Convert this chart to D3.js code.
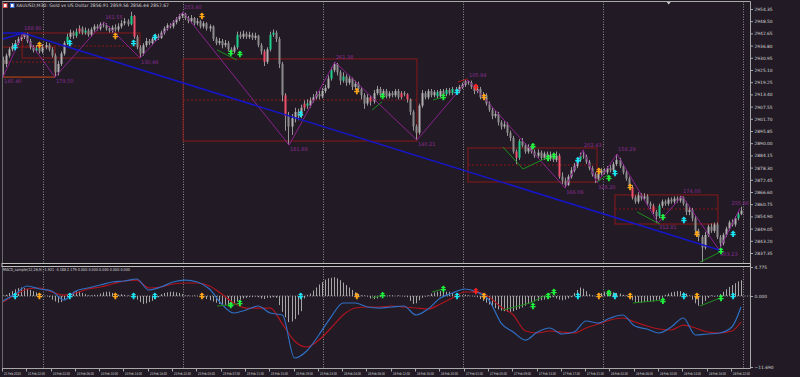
<!DOCTYPE html>
<html lang="en">
<head>
<meta charset="UTF-8">
<script src="https://d3js.org/d3.v7.min.js"></script>
<style>
  html, body { margin: 0; padding: 0; background: #221b25; }
  svg { display: block; font-family: Tahoma, "DejaVu Sans", sans-serif; }
</style>
</head>
<body>
<svg id="chart" width="800" height="377"></svg>
<script>
// ---------- data ----------
const firstOpen = 2930;
const closes = [
  2928,2932,2935,2936.5,2938,2940,2941,2942.5,2939,2936,2934.5,2935.5,2934,2936,2937,2935,2932,2924,2928,2933,
  2938,2941,2943,2941.5,2943.5,2945,2943,2944,2942,2944.5,2946,2945,2947,2946.5,2945,2944,2945.5,2944.5,2946,2947.5,
  2948.5,2947,2951,2941,2936,2933,2937,2939,2938,2940,2941.5,2940.5,2943,2945,2946.5,2946,2948,2949.5,2951,2952,
  2950,2948.5,2950,2947.5,2948.5,2946,2947.5,2945,2946,2940,2938,2939,2937,2938,2935,2934,2936,2942,2941,2942.5,
  2941,2942,2940.5,2941.5,2937,2934,2929,2935,2942,2943,2940,2928,2913,2903,2898,2902,2905,2903,2907,2909,
  2908,2910.5,2912,2913.5,2912.5,2915,2916.5,2921,2925,2928,2924,2920,2922,2919,2921,2917,2918.5,2916,2913,2909,
  2912,2910,2914,2916,2913,2915,2912.5,2914,2913,2915,2912,2914,2913.5,2911,2905,2898,2895,2908,2914,2912,
  2915,2913,2914.5,2912.5,2915,2913.5,2915.5,2914,2916,2915,2917,2918,2919.5,2919,2917,2915,2916,2912,2913,2909,
  2906,2903,2904,2900,2898,2899,2895,2892.5,2886,2883,2891,2889,2886,2888,2886,2884,2885.5,2883,2885,2882.5,
  2884.5,2882,2884,2874,2872,2870,2874,2877,2879,2882,2884,2883.5,2881,2878,2875,2873,2875.5,2877,2876,2878,
  2877,2880,2882,2879,2876,2873,2869,2864,2862,2865,2863.5,2864.5,2861,2860,2857,2855,2860,2862,2861,2863,
  2862,2863.5,2862.5,2864,2861,2857,2858,2854,2848,2845,2840,2846,2850,2848,2851,2845,2842,2846,2849,2852,
  2851,2854,2856,2857.67
];
const highs = [
  2931.5,2933,2936,2938,2939.5,2941,2942,2942.9,2943,2940,2937,2937,2936.5,2937.5,2938.5,2938,2936,2933,2929.5,2934,
  2939,2942.5,2944.5,2944,2945,2946.5,2946,2945.5,2945,2945.5,2947,2947,2948,2948.2,2947.5,2946,2946.5,2947,2947.5,2949,
  2950,2949.5,2953,2951.5,2942,2937,2938,2940.5,2940,2941,2942.5,2942.5,2944,2946,2947.5,2947.5,2949,2950.5,2952,2952.9,
  2952.5,2951,2951.5,2950.5,2950,2949,2948.5,2948,2947,2946.5,2941,2940.5,2940,2939.5,2939,2936,2937,2943.5,2943.5,2944,
  2943.5,2943.5,2943,2943,2942,2938,2935,2936,2943.5,2944.5,2944,2941,2929,2914,2905,2904,2907,2906.5,2908.5,2910.5,
  2911,2912,2913.5,2915,2915,2916.5,2918,2922.5,2926.5,2929,2928.5,2925,2924,2923,2922.5,2921.5,2920,2919.5,2917,2914,
  2913.5,2913,2915.5,2917.5,2917,2916,2916,2915,2915,2916,2916,2915,2915,2914,2911.5,2906,2899,2909,2915.5,2915,
  2916,2916,2915.5,2915.5,2916,2916,2916.5,2916.5,2917,2917,2918,2919,2920.5,2920.3,2920,2918,2917.5,2917,2914.5,2914,
  2910,2907,2905.5,2905,2901,2900.5,2900,2896,2893.5,2887,2892,2892.5,2890,2889.5,2889,2887,2887,2886.5,2886,2886,
  2886,2885.5,2886,2885,2876,2873.5,2875,2878.5,2880.5,2883,2885.5,2886.75,2884.5,2882,2879,2876,2876.5,2878,2878,2879,
  2879.5,2881,2884.8,2883,2880,2877,2874,2870,2865,2866.5,2866,2866,2865.5,2862,2861,2858,2861,2863,2863,2864,
  2864,2864.5,2864.5,2864.7,2864.5,2862,2859.5,2859,2855,2849,2846,2847.5,2851,2851.5,2852,2852,2846,2847,2850,2853,
  2853.5,2855,2857,2859.56
];
const lows = [
  2921.7,2926.5,2931,2934,2935.5,2937,2939,2940,2938,2935,2933.5,2933.5,2933,2933,2935,2934,2931,2921.7,2922.5,2927,
  2932,2937,2940,2940,2940.5,2942.5,2942,2942,2941,2941,2943.5,2944,2944,2945.5,2944,2943,2943,2943.5,2943.5,2945,
  2946.5,2946,2946.5,2940,2935,2930.85,2932,2936,2937,2937,2939,2939.5,2940,2942,2944,2945,2945,2947,2948.5,2950,
  2949,2947.5,2947.5,2946.5,2946.5,2945,2945,2944,2943.5,2939,2937,2937,2935.5,2936,2934,2932.5,2933,2935,2940,2940,
  2940,2940,2939.5,2939.5,2936,2932.5,2927,2928,2934,2941,2938.5,2926,2910,2896,2889.1,2894,2900,2901,2902,2905.5,
  2906.5,2907,2909.5,2911,2911,2911.5,2914,2916,2920,2924,2922.5,2918,2919,2917.5,2918,2915.5,2916,2914.5,2911,2906.5,
  2908,2908,2909,2913,2912,2912,2911.5,2911.5,2912,2912,2911,2911,2912.5,2909.5,2903.5,2896,2891.5,2894,2907,2911,
  2911,2912,2912,2911.5,2911.5,2912.5,2912.5,2913,2913,2914,2914,2916,2917,2918,2916,2913.5,2914,2911,2911,2908,
  2905,2901.5,2902,2898.5,2896.5,2897,2893.5,2891,2885,2880,2882,2888,2885,2885,2885,2883,2883,2882,2882,2881.5,
  2881.5,2881,2881,2873,2870.5,2868.5,2869.5,2873,2876,2878,2881,2882.5,2880,2877,2874,2870.9,2872,2874.5,2875,2875,
  2876,2876,2879,2878,2875,2872,2868,2863,2861,2861,2862.5,2862.5,2860,2858.5,2856,2851.7,2854,2859,2860,2860,
  2861,2861,2861.5,2861.5,2860,2855.5,2855.5,2852.5,2846.5,2843,2833,2839,2845,2847,2847,2844,2838.8,2841,2845,2848,
  2850,2850,2853,2855.5
];
const greenBars = [11, 21, 24, 27, 42, 77, 88, 89, 100, 108, 112, 143, 146, 148, 170, 190, 216, 242];
const redBars = [25, 43, 86, 93, 99, 121, 131, 133, 169, 183, 207, 214];

// zigzag swing points and their labels
const zigBars = [-1, 0, 6.6, 17.1, 33.3, 45.1, 59.3, 94.2, 109.3, 136.3, 153.1, 185.1, 191, 195.6, 202.2, 215.7, 223.6, 235.8, 242.7];
const zigPrices = [2934.7, 2921.7, 2942.85, 2921.7, 2948.1, 2930.85, 2952.9, 2889.1, 2928.95, 2891.5, 2920.3, 2868.5, 2886.75, 2870.9, 2884.8, 2851.7, 2864.7, 2838.8, 2858.9];
const zigLabels = ["", "145.40", "188.80", "179.50", "161.55", "130.46", "253.40", "181.89", "261.38", "140.21", "105.94", "166.06", "202.43", "326.20", "158.29", "312.81", "174.00", "303.23", "255.66"];

// red range boxes
const boxStart = [-1, 6.3, 59.3, 153.1, 201.5];
const boxEnd = [17.1, 45.1, 136.3, 195.6, 235.4];
const boxTop = [2936.1, 2942.85, 2930.4, 2887.7, 2865.2];
const boxBottom = [2921.7, 2930.85, 2891.05, 2871.4, 2851.25];
const boxMid = [2928.9, 2936.6, 2910.7, 2879.55, 2858.45];

// blue trend lines [bar, price, bar, price]
const trendLines = [[6.6, 2942.85, 235.8, 2838.8], [-1, 2939.5, 6.6, 2942.85], [-1, 2942.85, 6.6, 2942.85]];

// signal markers
const markerBars = [4, 12, 22, 37, 43, 50, 65.5, 75, 78, 98, 116.5, 125, 145, 149.5, 155.7, 158.4, 174.5, 179.5, 181.4, 189.3, 196.2, 199.5, 201.5, 206.5, 217.3, 224.2, 228.5, 236.4, 240.4];
const markerKinds = ["c","o","c","o","c","c","o","g","g","c","o","g","g","c","r","o","g","g","g","c","o","g","c","o","g","c","o","g","c"];
const markerPrices = [2936.1, 2937.1, 2938.05, 2941.4, 2938.05, 2940.9, 2951, 2933.25, 2932.8, 2904, 2915, 2912.6, 2912.15, 2914.6, 2916.95, 2912.15, 2888.6, 2882.9, 2883.9, 2881.9, 2876.7, 2873.3, 2875.7, 2869, 2854.6, 2853.2, 2846.5, 2838.3, 2846.5];
const markerMacd = [0, 0, 0, 0, 0, 0, 0, -1.5, -1.15, 0, 0, 0.16, 1.15, 0, 0.8, 0, -1.65, 0, 0.66, 0, 0, 0.5, 0, 0, -0.8, 0, 0, -0.33, 0];

// divergence segments
const divMain = [
  [[70.5, 2934.7], [77, 2929.9]], [[121.5, 2905.9], [124.8, 2909.8]], [[141.6, 2910.7], [144.9, 2912.15]],
  [[164.6, 2888.2], [171.2, 2877.6], [179.5, 2883.4]], [[195.6, 2871.4], [199.2, 2874.8]],
  [[208.8, 2857], [216.3, 2851.2]], [[229.5, 2833], [236.1, 2837.8]]
];
const redSeg = [[149.8, 2919.35], [153, 2920.8]];
const divMacd = [
  [[70.5, -1.65], [77.1, -1.32]], [[121.5, -0.33], [125, 0.16]], [[141.3, 0.66], [144.9, 1.15]],
  [[164.6, -2.3], [173.5, -1.15], [181, 0.66]], [[207.4, -1.15], [217.3, -0.66]], [[229.5, -1.65], [236.1, -0.33]]
];

// MACD lines, sampled every 4 bars
const macdBars = [0,4,8,12,16,20,24,28,32,36,40,44,48,52,56,60,64,68,72,76,80,84,88,92,96,100,104,108,112,116,
  120,124,128,132,136,140,144,148,152,156,160,164,168,172,176,180,184,188,192,196,200,204,208,212,216,220,224,228,232,236,240,243];
const macdMain = [-0.82,0.33,1.65,1.15,0.82,-0.66,0.82,1.32,1.81,2.31,2.47,2.8,0.99,1.48,2.31,2.63,2.31,1.15,-1.32,-2.8,
  -2.31,-1.65,-2.8,-3.13,-10.21,-9.06,-6.42,-3.46,-1.15,-1.15,-1.81,-1.98,-1.81,-1.65,-3.13,-2.14,-0.33,0.49,1.15,0.66,
  -0.66,-4.45,-5.93,-7.25,-5.93,-5.27,-6.26,-5.93,-4.12,-4.45,-3.62,-3.13,-4.94,-5.43,-6.09,-5.1,-3.62,-6.42,-6.26,-6.09,-5.1,-1.81];
const macdSignal = [-0.99,0.16,1.15,1.32,0.66,0.16,0.49,1.15,1.48,1.98,2.47,2.63,1.32,1.48,1.98,2.14,2.14,1.65,0.33,-1.15,
  -1.98,-1.98,-1.98,-4.6,-7.41,-8.4,-7.25,-5.27,-3.13,-1.98,-1.81,-1.81,-1.65,-1.81,-1.98,-2.14,-1.32,-0.33,0.66,0.66,
  -0.16,-1.81,-3.13,-5.76,-6.09,-5.76,-5.93,-6.09,-5.27,-4.61,-3.95,-3.62,-4.28,-4.94,-5.43,-5.6,-4.78,-5.27,-5.93,-6.09,-5.76,-4.28];
const macdHist = [
  0.1,0.2, 0.5,0.8,1.1,1.3,1.4,1.3,1.2,1.0,0.8,0.6, 0.3,0.1,0.0,-0.2, -0.6,-0.9,-1.1,-1.0,-0.6,
  0.3,0.5,0.7,0.8,0.7,0.5,0.3, 0.1,0.1,0.2,0.2, 0.4,0.6,0.7,0.7,0.5,0.3, 0.2,0.3,0.2,0.1,0.0,-0.2,
  -0.6,-1.0,-1.3,-1.2,-1.0,-0.8,-0.5,-0.2, 0.3,0.5,0.6,0.7,0.7,0.6,0.5,0.3, 0.1,0.1,0.0,0.1,0.0,-0.1,
  -0.3,-0.5,-0.7,-0.9,-1.1,-1.3,-1.4,-1.5,-1.6,-1.5,-1.3, -0.9,-0.6,-0.4,-0.3,-0.2,-0.2,-0.1,-0.2,
  -0.4,-0.5,-0.3,-0.3,-0.2,-0.3, -1.5,-2.6,-3.5,-4.3,-4.2,-3.8,-3.1,-2.5, -0.4,0.2,
  0.4,0.9,1.4,1.9,2.3,2.7,2.9,3.0,3.1,2.9,2.6,2.2,1.8,1.4,1.0,0.6,0.3, 0.1,0.1,-0.1, -0.4,-0.5,-0.4,-0.2,
  0.1,0.0,0.1,0.1,0.0,0.1,0.0,-0.1,-0.2, -0.8,-1.3,-1.2,-0.7, -0.3,-0.1,0.1,
  0.4,0.6,0.7,0.8,0.8,0.7,0.7,0.5,0.3, 0.1,0.1,0.2,0.1,0.0,-0.1,-0.2,
  -0.5,-0.8,-1.1,-1.4,-1.7,-2.0,-2.2,-2.4,-2.5,-2.6,-2.6,-2.5,
  -2.3,-2.1,-1.9,-1.6,-1.3,-1.1,-0.9,-0.8,-0.7,-0.6,-0.4,-0.3,-0.2, -0.4,-0.6,-0.7,-0.6,-0.4,-0.2,
  0.5,1.0,1.4,1.2,0.8, 0.3,0.1,0.0, 0.3,0.5,0.7,0.8,0.7,0.6,0.5,0.4,0.2,0.1,
  -0.3,-0.7,-1.0,-1.1,-1.1,-1.0,-1.0,-0.9,-0.9,-0.8,-0.6,-0.3, 0.2,0.4,0.6,0.7,0.8,0.8,0.6,0.4,0.1,
  -0.6,-1.2,-1.6,-1.4,-0.8, -0.3,0.1,-0.1,0.1,0.3, 0.7,1.1,1.5,1.8,2.1,2.4,2.6
];

// axes
const priceTicks = [2954.35,2948.50,2942.65,2936.80,2930.95,2925.10,2919.25,2913.40,2907.55,2901.70,2895.85,
  2890.00,2884.15,2878.30,2872.45,2866.60,2860.75,2854.90,2849.05,2843.20,2837.35];
const macdTicks = [4.775, 0, -11.69];
const timeBars = [0,8,16,24,32,40,48,56,64,72,80,88,96,104,112,120,128,136,144,152,160,168,176,184,192,200,208,216,224,232,240];
const timeLabels = ["21 Feb 2025","21 Feb 22:00","24 Feb 02:00","24 Feb 06:00","24 Feb 10:00","24 Feb 14:00","24 Feb 18:00",
  "24 Feb 22:00","25 Feb 03:00","25 Feb 07:00","25 Feb 11:00","25 Feb 15:00","25 Feb 19:00","25 Feb 23:00","26 Feb 04:00",
  "26 Feb 08:00","26 Feb 12:00","26 Feb 16:00","26 Feb 20:00","27 Feb 01:00","27 Feb 05:00","27 Feb 09:00","27 Feb 13:00",
  "27 Feb 17:00","27 Feb 21:00","28 Feb 02:00","28 Feb 06:00","28 Feb 10:00","28 Feb 14:00","28 Feb 18:00","28 Feb 22:00"];
const sepBars = [13.2, 59.3, 105.4, 151.5, 197.6, 243.7];

const titleText = "XAUUSD,M30:  Gold vs US Dollar  2856.91 2859.56 2856.44 2857.67";
const macdText = "MACD_sample(12,26,9) -1.921 -4.188 2.179 0.000 0.000 0.000 0.000 0.000";

// ---------- layout ----------
const svg = d3.select("#chart");
const right = 750.5, mainTop = 1.5, mainBottom = 263.5, macdTop = 266.5, macdBottom = 368.5;
const axisCol = "#a8a8a8", textCol = "#d4d4d4";

const x = d3.scaleLinear().domain([0, 243]).range([3, 741]);
const y = d3.scaleLinear().domain([2837.35, 2954.35]).range([253, 9]);
const m = d3.scaleLinear().domain([-11.69, 4.775]).range([367, 267]);

svg.append("rect").attr("width", 800).attr("height", 377).attr("fill", "#221b25");

const defs = svg.append("defs");
defs.append("clipPath").attr("id", "clipMain").append("rect")
    .attr("x", 2).attr("y", mainTop).attr("width", right - 2).attr("height", mainBottom - mainTop);
defs.append("clipPath").attr("id", "clipMacd").append("rect")
    .attr("x", 2).attr("y", macdTop).attr("width", right - 2).attr("height", macdBottom - macdTop);

// period separators
svg.append("g").selectAll("line").data(sepBars).enter().append("line")
    .attr("x1", d => Math.round(x(d)) + 0.5).attr("x2", d => Math.round(x(d)) + 0.5)
    .attr("y1", mainTop).attr("y2", macdBottom)
    .attr("stroke", "#8c8c8c").attr("stroke-width", 1).attr("stroke-dasharray", "1,1.5");

const main = svg.append("g").attr("clip-path", "url(#clipMain)");

// boxes
boxStart.forEach((b, k) => {
    main.append("rect")
        .attr("x", x(b)).attr("y", y(boxTop[k]))
        .attr("width", x(boxEnd[k]) - x(b)).attr("height", y(boxBottom[k]) - y(boxTop[k]))
        .attr("fill", "none").attr("stroke", "#8a1818").attr("stroke-width", 1);
    main.append("line")
        .attr("x1", x(b)).attr("x2", x(boxEnd[k]))
        .attr("y1", y(boxMid[k])).attr("y2", y(boxMid[k]))
        .attr("stroke", "#8a1818").attr("stroke-width", 1).attr("stroke-dasharray", "2,2");
});
// first box bottom edge is drawn brown
main.append("line").attr("x1", x(boxStart[0])).attr("x2", x(boxEnd[0]))
    .attr("y1", y(boxBottom[0])).attr("y2", y(boxBottom[0]))
    .attr("stroke", "#9a4a20").attr("stroke-width", 1);

// candles
const bars = closes.map((c, i) => ({ i, o: i ? closes[i - 1] : firstOpen, h: highs[i], l: lows[i], c }));
const bodyColor = d => greenBars.includes(d.i) ? "#1ecf8c" : redBars.includes(d.i) ? "#f0506a" : (d.c >= d.o ? "#b0b0b0" : "#8c8c8c");

main.append("g").selectAll("line").data(bars).enter().append("line")
    .attr("x1", d => Math.round(x(d.i)) + 0.5).attr("x2", d => Math.round(x(d.i)) + 0.5)
    .attr("y1", d => y(d.h)).attr("y2", d => y(d.l))
    .attr("stroke", "#979797").attr("stroke-width", 1);

main.append("g").selectAll("rect").data(bars).enter().append("rect")
    .attr("x", d => Math.round(x(d.i)) - 0.5).attr("width", 2)
    .attr("y", d => y(Math.max(d.o, d.c)))
    .attr("height", d => Math.max(0.8, Math.abs(y(d.o) - y(d.c))))
    .attr("fill", bodyColor);

// zigzag
const zig = zigBars.map((b, k) => [x(b), y(zigPrices[k])]);
main.append("path").attr("d", d3.line()(zig))
    .attr("fill", "none").attr("stroke", "#8a228e").attr("stroke-width", 1);

zigLabels.forEach((t, k) => {
    if (!t) return;
    const isHigh = k > 0 && zigPrices[k] > zigPrices[k - 1];
    const last = k === zigLabels.length - 1;
    main.append("text")
        .attr("x", last ? right - 1.5 : x(zigBars[k]) + 1)
        .attr("text-anchor", last ? "end" : "start")
        .attr("y", y(zigPrices[k]) + (isHigh ? -4.5 : 5))
        .attr("dominant-baseline", "middle")
        .attr("fill", "#8a2c92").style("font-size", "5px")
        .text(t);
});

// trend lines
trendLines.forEach(t => {
    main.append("line")
        .attr("x1", x(t[0])).attr("y1", y(t[1])).attr("x2", x(t[2])).attr("y2", y(t[3]))
        .attr("stroke", "#1616c8").attr("stroke-width", 1.6);
});

// divergence segments
const lineMain = d3.line().x(d => x(d[0])).y(d => y(d[1]));
divMain.forEach(seg => {
    main.append("path").attr("d", lineMain(seg))
        .attr("fill", "none").attr("stroke", "#1c8c1c").attr("stroke-width", 1);
});
main.append("path").attr("d", lineMain(redSeg))
    .attr("fill", "none").attr("stroke", "#b01818").attr("stroke-width", 1);

// marker glyph: small up arrow with a cross bar
const glyph = "M0,-3.4 L2.6,-0.9 L0.9,-0.9 L0.9,-0.1 L2.6,-0.1 L2.6,1.3 L0.9,1.3 L0.9,3.2 L-0.9,3.2 L-0.9,1.3 L-2.6,1.3 L-2.6,-0.1 L-0.9,-0.1 L-0.9,-0.9 L-2.6,-0.9 Z";
const kindColor = { c: "#19e6f5", o: "#ffa516", g: "#1ef23c", r: "#ff2020" };

main.append("g").selectAll("path").data(markerBars).enter().append("path")
    .attr("d", glyph)
    .attr("transform", (d, k) => `translate(${x(d)},${y(markerPrices[k])})`)
    .attr("fill", (d, k) => kindColor[markerKinds[k]]);

// ---------- MACD panel ----------
const macd = svg.append("g").attr("clip-path", "url(#clipMacd)");

macd.append("line").attr("x1", 2).attr("x2", right).attr("y1", m(0)).attr("y2", m(0))
    .attr("stroke", "#9a9a9a").attr("stroke-width", 1).attr("stroke-dasharray", "1,1.5");

macd.append("g").selectAll("line").data(macdHist).enter().append("line")
    .attr("x1", (d, i) => Math.round(x(i)) + 0.5).attr("x2", (d, i) => Math.round(x(i)) + 0.5)
    .attr("y1", m(0)).attr("y2", d => m(d))
    .attr("stroke", "#a6a6a6").attr("stroke-width", 1);

const lineMacd = d3.line().x(d => x(d[0])).y(d => m(d[1])).curve(d3.curveMonotoneX);
macd.append("path").attr("d", lineMacd(macdBars.map((b, k) => [b, macdSignal[k]])))
    .attr("fill", "none").attr("stroke", "#b0141e").attr("stroke-width", 1.2);
macd.append("path").attr("d", lineMacd(macdBars.map((b, k) => [b, macdMain[k]])))
    .attr("fill", "none").attr("stroke", "#2f6fc4").attr("stroke-width", 1.2);

const lineDiv = d3.line().x(d => x(d[0])).y(d => m(d[1]));
divMacd.forEach(seg => {
    macd.append("path").attr("d", lineDiv(seg))
        .attr("fill", "none").attr("stroke", "#1c8c1c").attr("stroke-width", 1);
});

macd.append("g").selectAll("path").data(markerBars).enter().append("path")
    .attr("d", glyph)
    .attr("transform", (d, k) => `translate(${x(d)},${m(markerMacd[k])})`)
    .attr("fill", (d, k) => kindColor[markerKinds[k]]);

// ---------- frame ----------
svg.append("line").attr("x1", 2).attr("x2", right).attr("y1", mainTop).attr("y2", mainTop)
    .attr("stroke", axisCol);
svg.append("line").attr("x1", 2.5).attr("x2", 2.5).attr("y1", mainTop).attr("y2", macdBottom)
    .attr("stroke", "#6a6a6a");
svg.append("rect").attr("x", 2).attr("y", mainBottom).attr("width", right - 2).attr("height", macdTop - mainBottom)
    .attr("fill", "#141014").attr("stroke", "#c0c0c0").attr("stroke-width", 1);
svg.append("line").attr("x1", 2).attr("x2", right).attr("y1", macdBottom).attr("y2", macdBottom)
    .attr("stroke", axisCol);
svg.append("path").attr("d", `M${x(219.2) - 2},2 L${x(219.2) + 2},2 L${x(219.2)},4.5 Z`).attr("fill", "#c8c8c8");

// price axis
const pAxis = svg.append("g").attr("transform", `translate(${right},0)`)
    .call(d3.axisRight(y).tickValues(priceTicks).tickFormat(d3.format(".2f")).tickSize(2.5).tickPadding(1.5));
pAxis.select(".domain").attr("d", `M0,${mainTop}V${mainBottom}`).attr("stroke", axisCol);

const mAxis = svg.append("g").attr("transform", `translate(${right},0)`)
    .call(d3.axisRight(m).tickValues(macdTicks).tickFormat(d3.format(".3f")).tickSize(2.5).tickPadding(1.5));
mAxis.select(".domain").attr("d", `M0,${macdTop}V${macdBottom}`).attr("stroke", axisCol);

[pAxis, mAxis].forEach(a => {
    a.selectAll(".tick line").attr("stroke", axisCol);
    a.selectAll(".tick text").attr("fill", textCol).style("font-size", "4.4px").style("font-family", "Tahoma, 'DejaVu Sans', sans-serif");
});

// time axis
const tAxis = svg.append("g");
timeBars.forEach((b, k) => {
    const tx = Math.round(x(b)) - 0.5;
    tAxis.append("line").attr("x1", tx).attr("x2", tx).attr("y1", macdBottom).attr("y2", macdBottom + 3)
        .attr("stroke", axisCol);
    tAxis.append("text").attr("x", tx + 1.5).attr("y", macdBottom + 5)
        .attr("dominant-baseline", "middle")
        .attr("fill", textCol).style("font-size", "3.8px")
        .attr("textLength", 17).attr("lengthAdjust", "spacingAndGlyphs")
        .text(timeLabels[k]);
});

// headers
svg.append("rect").attr("x", 3).attr("y", 3).attr("width", 4.5).attr("height", 5).attr("fill", "#e04848");
svg.append("rect").attr("x", 4).attr("y", 4).attr("width", 2.5).attr("height", 3).attr("fill", "#ffffff");
svg.append("rect").attr("x", 10).attr("y", 3).attr("width", 4.5).attr("height", 5).attr("fill", "#3a6ad8");
svg.append("rect").attr("x", 11).attr("y", 4).attr("width", 2.5).attr("height", 3).attr("fill", "#ffffff");

svg.append("text").attr("x", 16).attr("y", 5.8).attr("dominant-baseline", "middle")
    .attr("fill", textCol).style("font-size", "4.6px")
    .attr("textLength", 153).attr("lengthAdjust", "spacingAndGlyphs")
    .text(titleText);
svg.append("text").attr("x", 3).attr("y", 269.5).attr("dominant-baseline", "middle")
    .attr("fill", textCol).style("font-size", "4px")
    .attr("textLength", 127).attr("lengthAdjust", "spacingAndGlyphs")
    .text(macdText);
</script>
</body>
</html>
